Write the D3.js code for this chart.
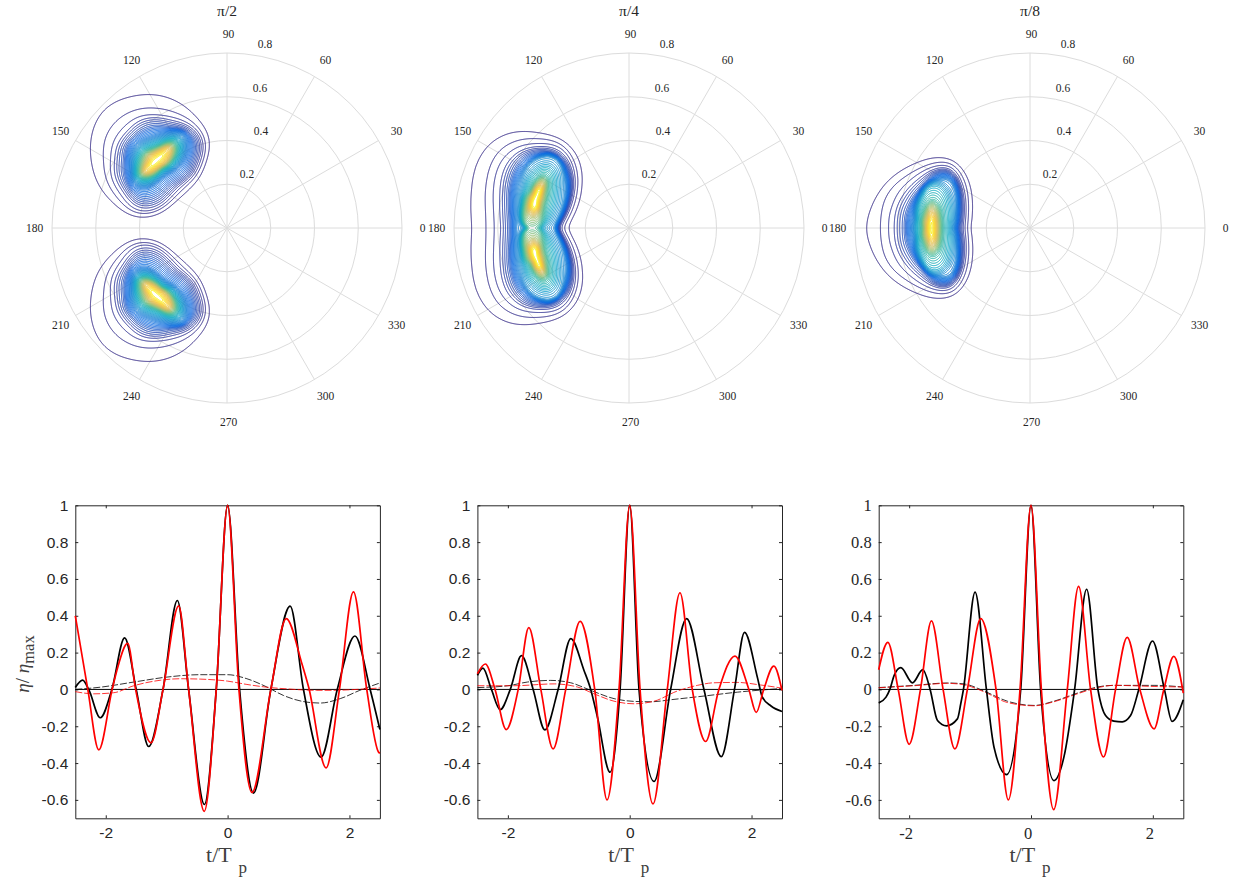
<!DOCTYPE html>
<html>
<head>
<meta charset="utf-8">
<script src="https://cdnjs.cloudflare.com/ajax/libs/d3/7.8.5/d3.min.js"></script>
<style>
body { margin: 0; background: #fff; }
svg { display: block; }
</style>
</head>
<body>
<svg id="chart" width="1239" height="881"></svg>
<script>
// polar axis
const polarTitles = ["π/2", "π/4", "π/8"];
const angleTicks = [0, 30, 60, 90, 120, 150, 180, 210, 240, 270, 300, 330];
const radiusTicks = [0.2, 0.4, 0.6, 0.8];
const rMax = 0.8;
// ring radii below are read in 1/218.75 of a radial unit
const rUnit = 1 / 218.75;

// contour traces, one row per level, rays evenly spaced counter clockwise from east
const p1Origin = [-0.321, 0.311];
const p1Levels = [1, 2, 3, 4, 8, 15, 28, 42, 50];
const p1Rings = [
    [48, 57, 57, 61, 65, 68, 74, 70, 65, 63, 60, 61, 54, 44, 42, 45],
    [46, 53, 52, 50, 51, 54, 56, 56, 52, 54, 54, 58, 51, 41, 38, 42],
    [43, 51, 49, 45, 44, 47, 46, 47, 45, 49, 49, 56, 49, 38, 35, 40],
    [41, 49, 47, 41, 42, 43, 40, 42, 41, 45, 45, 52, 46, 35, 33, 38],
    [35, 43, 42, 34, 35, 34, 33, 34, 32, 36, 39, 45, 37, 28, 28, 33],
    [27, 34, 40, 29, 25, 24, 26, 27, 27, 28, 35, 32, 22, 18, 18, 22],
    [17, 23, 29, 18, 14, 13, 15, 17, 18, 21, 27, 20, 14, 11, 11, 14],
    [10, 14, 20, 10, 8, 7, 7, 8, 9, 11, 20, 12, 8, 7, 7, 8],
    [2, 5, 10, 3, 2, 2, 2, 2, 3, 5, 10, 4, 2, 2, 2, 2]
];

// upper half only (0 to 180 degrees), the lower half is the same
const p2Origin = [-0.407, 0];
const p2Levels = [1, 2, 3, 4, 8, 18];
const p2HalfRings = [
    [27, 31, 42, 58, 79, 91, 94, 100, 99, 90, 78, 71, 67],
    [23, 27, 37, 52, 72, 88, 89, 91, 87, 73, 62, 55, 53],
    [21, 24, 32, 47, 69, 85, 84, 85, 78, 64, 53, 47, 45],
    [18, 21, 29, 44, 65, 81, 81, 80, 70, 54, 45, 40, 38],
    [17, 19, 26, 40, 60, 76, 77, 73, 57, 43, 35, 31, 30],
    [15, 17, 22, 33, 52, 70, 70, 58, 43, 32, 27, 23, 23]
];
const p2HumpOrigin = [-0.425, 0.136];
const p2HumpLevels = [18, 22, 30, 38, 44, 50];
const p2HumpRings = [
    [28, 30, 40, 49, 41, 31, 21, 19, 19, 20, 26, 37, 37, 36, 29, 28],
    [22, 24, 32, 40, 32, 23, 16, 15, 15, 16, 22, 32, 33, 29, 23, 22],
    [11, 13, 17, 28, 18, 11, 9, 10, 11, 13, 18, 33, 35, 18, 12, 11],
    [7, 7, 10, 22, 12, 7, 6, 6, 7, 8, 12, 20, 20, 9, 7, 6],
    [4, 5, 7, 16, 8, 4, 4, 4, 4, 5, 8, 14, 14, 6, 4, 4],
    [2, 2, 4, 12, 5, 2, 2, 2, 2, 3, 5, 10, 10, 3, 2, 2]
];

const p3Origin = [-0.434, 0];
const p3Levels = [1, 2, 3, 4, 8, 18];
const p3HalfRings = [
    [34, 37, 42, 50, 61, 70, 70, 67, 66, 66, 66, 67, 69],
    [32, 34, 38, 46, 57, 68, 65, 61, 59, 59, 58, 55, 54],
    [29, 31, 35, 42, 53, 65, 62, 57, 53, 51, 48, 47, 46],
    [27, 29, 33, 40, 50, 62, 59, 52, 48, 45, 43, 41, 40],
    [23, 25, 29, 35, 47, 59, 55, 44, 39, 35, 33, 31, 30],
    [18, 21, 23, 30, 41, 52, 46, 36, 31, 26, 22, 22, 22]
];
const p3CoreOrigin = [-0.453, 0];
const p3CoreLevels = [18, 24, 30, 38, 44, 50];
const p3CoreHalfRings = [
    [22, 25, 29, 35, 44, 50, 48, 37, 29, 23, 18, 18, 18],
    [18, 19, 22, 26, 33, 42, 44, 33, 25, 19, 16, 15, 14],
    [11, 12, 13, 15, 20, 27, 30, 22, 16, 13, 11, 10, 9],
    [7, 8, 8, 10, 13, 18, 23, 14, 11, 9, 7, 6, 6],
    [4, 5, 5, 6, 8, 12, 16, 8, 6, 5, 4, 4, 3],
    [1, 1, 2, 2, 3, 5, 10, 3, 2, 1, 1, 1, 1]
];

const contourLevels = d3.range(1, 51);
const parulaStops = ["#352a87", "#0363e1", "#1485d4", "#06a7c6", "#38b99e", "#92bf73", "#d9ba56", "#fcce2e", "#f9fb0e"];

// time series, [t/Tp, eta/eta_max] read at extrema, zero crossings and shoulders
const xTicks = [-2, 0, 2];
const yTicks = [-0.6, -0.4, -0.2, 0, 0.2, 0.4, 0.6, 0.8, 1];

const p1Black = [[-2.5, 0.01], [-2.38, 0.05], [-2.28, 0], [-2.09, -0.154], [-1.9, 0], [-1.69, 0.28], [-1.5, 0], [-1.295, -0.31], [-1.06, 0], [-0.825, 0.483], [-0.64, 0], [-0.38, -0.625], [-0.186, 0], [0, 1], [0.197, 0], [0.426, -0.563], [0.71, 0], [1.027, 0.452], [1.245, 0], [1.535, -0.368], [1.8, 0], [2.09, 0.29], [2.34, 0], [2.5, -0.218]];
const p1Red = [[-2.5, 0.4], [-2.295, 0], [-2.115, -0.328], [-1.895, 0], [-1.82, 0.1], [-1.64, 0.25], [-1.51, 0], [-1.257, -0.29], [-1.06, 0], [-0.803, 0.454], [-0.64, 0], [-0.383, -0.662], [-0.186, 0], [0, 1], [0.186, 0], [0.4, -0.56], [0.71, 0], [0.962, 0.385], [1.22, 0.14], [1.33, 0.013], [1.617, -0.426], [1.836, 0], [2.066, 0.53], [2.284, 0], [2.48, -0.342], [2.5, -0.347]];
const p1BlackDash = [[-2.5, 0], [-2.09, 0.012], [-1.54, 0.04], [-0.995, 0.067], [-0.45, 0.08], [0, 0.08], [0.317, 0.058], [0.645, 0.013], [0.918, -0.033], [1.3, -0.069], [1.52, -0.074], [1.85, -0.05], [2.17, -0.005], [2.5, 0.035]];
const p1RedDash = [[-2.5, -0.012], [-2.2, -0.024], [-1.87, -0.018], [-1.54, 0.02], [-1.1, 0.05], [-0.776, 0.058], [-0.45, 0.056], [0, 0.045], [0.317, 0.027], [0.645, 0.012], [0.97, 0.003], [1.46, -0.005], [1.74, -0.005], [2.06, -0.001], [2.5, 0.008]];

const p2Black = [[-2.5, 0.076], [-2.41, 0.116], [-2.27, 0], [-2.126, -0.11], [-1.96, 0], [-1.776, 0.183], [-1.585, 0], [-1.393, -0.22], [-1.175, 0], [-0.967, 0.276], [-0.75, 0.103], [-0.64, 0], [-0.53, -0.15], [-0.322, -0.45], [-0.158, 0], [0, 1], [0.153, 0], [0.4, -0.5], [0.672, 0], [0.934, 0.385], [1.219, 0], [1.503, -0.365], [1.72, 0], [1.885, 0.31], [2.1, 0.06], [2.175, -0.04], [2.32, -0.09], [2.5, -0.12]];
const p2Red = [[-2.5, 0.085], [-2.37, 0.138], [-2.21, 0], [-2.027, -0.218], [-1.83, 0], [-1.656, 0.336], [-1.459, 0], [-1.257, -0.323], [-1.05, 0], [-0.814, 0.37], [-0.574, 0], [-0.372, -0.6], [-0.175, 0], [0, 1], [0.17, 0], [0.383, -0.622], [0.617, 0], [0.825, 0.525], [1.027, 0], [1.246, -0.283], [1.464, 0], [1.727, 0.181], [1.956, 0], [2.077, -0.125], [2.2, 0], [2.366, 0.127], [2.5, -0.005]];
const p2BlackDash = [[-2.5, 0.01], [-2, 0.02], [-1.68, 0.04], [-1.295, 0.049], [-0.967, 0.036], [-0.64, -0.005], [-0.257, -0.05], [0.07, -0.065], [0.344, -0.067], [0.727, -0.054], [1.219, -0.036], [1.765, -0.015], [2.5, 0.005]];
const p2RedDash = [[-2.5, 0.02], [-1.9, 0.02], [-1.24, 0.03], [-0.858, 0.013], [-0.585, -0.024], [-0.257, -0.064], [0.07, -0.078], [0.4, -0.064], [0.78, -0.009], [1.11, 0.022], [1.38, 0.036], [1.765, 0.038], [2.15, 0.024], [2.5, 0.007]];

const p3Black = [[-2.5, -0.073], [-2.38, -0.042], [-2.317, 0], [-2.246, 0.076], [-2.137, 0.118], [-1.945, 0.036], [-1.776, 0.107], [-1.656, 0], [-1.535, -0.169], [-1.388, -0.198], [-1.208, -0.16], [-1.153, -0.078], [-1.109, 0], [-0.918, 0.528], [-0.732, 0], [-0.607, -0.314], [-0.4, -0.463], [-0.169, 0], [0, 1], [0.158, 0], [0.377, -0.495], [0.54, -0.368], [0.716, 0], [0.913, 0.544], [1.098, 0], [1.224, -0.142], [1.36, -0.172], [1.497, -0.176], [1.634, -0.142], [1.77, 0], [1.995, 0.263], [2.19, 0], [2.317, -0.174], [2.5, -0.056]];
const p3Red = [[-2.5, 0.107], [-2.35, 0.256], [-2.18, 0], [-2, -0.298], [-1.814, 0], [-1.634, 0.372], [-1.443, 0], [-1.25, -0.323], [-1.044, 0], [-0.825, 0.385], [-0.574, 0], [-0.372, -0.6], [-0.18, 0], [0, 1], [0.17, 0], [0.372, -0.653], [0.596, 0], [0.781, 0.56], [0.978, 0], [1.19, -0.367], [1.388, 0], [1.579, 0.283], [1.787, 0], [2.02, -0.214], [2.18, 0], [2.344, 0.18], [2.5, -0.02]];
const p3BlackDash = [[-2.5, 0.01], [-1.92, 0.022], [-1.37, 0.035], [-1.1, 0.03], [-0.77, -0.009], [-0.388, -0.064], [0.05, -0.087], [0.377, -0.064], [0.76, -0.02], [1.087, 0.013], [1.36, 0.022], [2.02, 0.022], [2.5, 0.013]];
const p3RedDash = [[-2.5, 0.009], [-1.92, 0.02], [-1.37, 0.033], [-1.1, 0.025], [-0.77, -0.013], [-0.388, -0.071], [0.05, -0.089], [0.377, -0.067], [0.76, -0.024], [1.087, 0.009], [1.36, 0.022], [2.02, 0.016], [2.5, 0.013]];

const svg = d3.select("#chart");
const serif = "'Liberation Serif', 'Times New Roman', serif";
const sans = "'Liberation Sans', Arial, sans-serif";

// --- polar row ---
const polarCx = [227, 629, 1030];
const polarCy = 228;
const polarR = 175;
const rScale = d3.scaleLinear().domain([0, rMax]).range([0, polarR]);
const rLabelDx = [20, 34, 33, 38];
const rLabelDy = [54, 97, 140, 184];

function unroll(halfRings) {
    return halfRings.map(h => h.concat(h.slice(1, -1).reverse()));
}

const polarLobes = [
    [{ origin: p1Origin, levels: p1Levels, rings: p1Rings, mirror: true }],
    [{ origin: p2Origin, levels: p2Levels, rings: unroll(p2HalfRings) },
     { origin: p2HumpOrigin, levels: p2HumpLevels, rings: p2HumpRings, mirror: true }],
    [{ origin: p3Origin, levels: p3Levels, rings: unroll(p3HalfRings) },
     { origin: p3CoreOrigin, levels: p3CoreLevels, rings: unroll(p3CoreHalfRings) }]
];

const gridSize = 2 * polarR;

function ringHeight(dist, radii, levels) {
    if (dist >= radii[0]) {
        // inner lobes sit on top of the main one and stop at their first ring
        if (levels[0] > 1) return 0;
        return Math.max(0, levels[0] - (dist - radii[0]) / (15 * rUnit));
    }
    for (let k = 0; k < radii.length - 1; k++) {
        if (dist >= radii[k + 1]) {
            return levels[k] + (levels[k + 1] - levels[k]) * (radii[k] - dist) / (radii[k] - radii[k + 1]);
        }
    }
    return levels[levels.length - 1];
}

function buildField(lobes) {
    const n = gridSize;
    const field = new Float64Array(n * n);
    const gridX = d3.scaleLinear().domain([0, n]).range([-rMax, rMax]);
    const gridY = d3.scaleLinear().domain([0, n]).range([rMax, -rMax]);
    lobes.forEach(lobe => {
        const profiles = lobe.rings.map(ring => {
            const f = d3.interpolateBasisClosed(ring);
            return d3.range(720).map(i => f(i / 720) * rUnit);
        });
        const signs = lobe.mirror ? [1, -1] : [1];
        signs.forEach(sign => {
            for (let j = 0; j < n; j++) {
                const dy = sign * gridY(j + 0.5) - lobe.origin[1];
                for (let i = 0; i < n; i++) {
                    const dx = gridX(i + 0.5) - lobe.origin[0];
                    const dist = Math.hypot(dx, dy);
                    const a = (Math.atan2(dy, dx) + 2 * Math.PI) % (2 * Math.PI);
                    const idx = Math.floor(a / (2 * Math.PI) * 720) % 720;
                    const radii = profiles.map(p => p[idx]);
                    const h = ringHeight(dist, radii, lobe.levels);
                    if (h > field[j * n + i]) field[j * n + i] = h;
                }
            }
        });
    });
    d3.blur2({ data: field, width: n, height: n }, 1);
    return field;
}

const parula = d3.scaleLinear()
    .domain(parulaStops.map((c, i) => i / (parulaStops.length - 1)))
    .range(parulaStops);
// most contours of the reference stay blue, so colour runs on a power of the level
const levelColor = d3.scalePow().exponent(1.4).domain([1, 50]).range([0, 1]);

polarTitles.forEach((title, p) => {
    const cx = polarCx[p];
    const g = svg.append("g").attr("transform", `translate(${cx},${polarCy})`);

    g.selectAll(".ring").data(radiusTicks).enter().append("circle")
        .attr("r", d => rScale(d))
        .attr("fill", "none")
        .attr("stroke", "#dcdcdc")
        .attr("stroke-width", 1);

    g.selectAll(".spoke").data(angleTicks).enter().append("line")
        .attr("x2", d => rScale(rMax) * Math.cos(d * Math.PI / 180))
        .attr("y2", d => -rScale(rMax) * Math.sin(d * Math.PI / 180))
        .attr("stroke", "#dcdcdc")
        .attr("stroke-width", 1);

    // contours come straight from d3.contours on the field
    const toPx = d3.scaleLinear().domain([0, gridSize]).range([-polarR, polarR]);
    const path = d3.geoPath(d3.geoTransform({
        point(x, y) { this.stream.point(toPx(x), toPx(y)); }
    }));
    const field = buildField(polarLobes[p]);
    const contours = d3.contours().size([gridSize, gridSize]).thresholds(contourLevels)(field);
    g.append("g").selectAll("path").data(contours).enter().append("path")
        .attr("d", path)
        .attr("fill", "none")
        .attr("stroke", d => parula(levelColor(d.value)))
        .attr("stroke-width", 1);

    g.selectAll(".angle-label").data(angleTicks).enter().append("text")
        .attr("x", d => 1.5 + (polarR + 19) * Math.cos(d * Math.PI / 180))
        .attr("y", d => -(polarR + 19) * Math.sin(d * Math.PI / 180))
        .attr("dy", "0.33em")
        .attr("text-anchor", "middle")
        .style("font-family", serif)
        .style("font-size", "11.5px")
        .attr("fill", "#262626")
        .text(d => d);

    g.selectAll(".radius-label").data(radiusTicks).enter().append("text")
        .attr("x", (d, i) => rLabelDx[i])
        .attr("y", (d, i) => -rLabelDy[i])
        .attr("dy", "0.33em")
        .attr("text-anchor", "middle")
        .style("font-family", serif)
        .style("font-size", "11.5px")
        .attr("fill", "#262626")
        .text(d => d);

    g.append("text")
        .attr("y", 11 - polarCy)
        .attr("dy", "0.33em")
        .attr("text-anchor", "middle")
        .style("font-family", serif)
        .style("font-size", "15.5px")
        .attr("fill", "#262626")
        .text(title);
});

// --- time series row ---
const boxLeft = [75.3, 477.4, 878.7];
const boxWidth = 304.6;
const boxTop = 505.3;
const boxBottom = 818.3;
const series = [
    [p1BlackDash, p1RedDash, p1Black, p1Red],
    [p2BlackDash, p2RedDash, p2Black, p2Red],
    [p3BlackDash, p3RedDash, p3Black, p3Red]
];
const tickFont = [sans, sans, serif];
const tickSize = ["15.5px", "15.5px", "16.5px"];
const labelShift = [0, 0, -3.5];

const y = d3.scaleLinear().domain([-0.7, 1]).range([boxBottom, boxTop]);

series.forEach((lines, p) => {
    const x = d3.scaleLinear().domain([-2.5, 2.5]).range([boxLeft[p], boxLeft[p] + boxWidth]);
    const g = svg.append("g");

    const line = d3.line().x(d => x(d[0])).y(d => y(d[1])).curve(d3.curveMonotoneX);

    const axes = [
        [d3.axisBottom(x).tickValues(xTicks).tickSize(-3).tickSizeOuter(0).tickPadding(9).tickFormat(d => d), [0, boxBottom]],
        [d3.axisTop(x).tickValues(xTicks).tickSize(-3).tickSizeOuter(0).tickFormat(""), [0, boxTop]],
        [d3.axisLeft(y).tickValues(yTicks).tickSize(-3).tickSizeOuter(0).tickPadding(7).tickFormat(d => d), [boxLeft[p], 0]],
        [d3.axisRight(y).tickValues(yTicks).tickSize(-3).tickSizeOuter(0).tickFormat(""), [boxLeft[p] + boxWidth, 0]]
    ];
    axes.forEach(([axis, pos]) => {
        const a = g.append("g").attr("transform", `translate(${pos[0]},${pos[1]})`).call(axis);
        a.selectAll("path, line").attr("stroke", "#262626").attr("stroke-width", 1);
        a.selectAll("text")
            .style("font-family", tickFont[p])
            .style("font-size", tickSize[p])
            .attr("fill", "#262626");
    });
    if (labelShift[p]) {
        g.select("g").selectAll("text").attr("dx", labelShift[p]);
    }

    g.append("line")
        .attr("x1", x(-2.5)).attr("x2", x(2.5))
        .attr("y1", y(0)).attr("y2", y(0))
        .attr("stroke", "#000").attr("stroke-width", 1);

    lines.forEach((d, i) => {
        g.append("path")
            .datum(d)
            .attr("d", line)
            .attr("fill", "none")
            .attr("stroke", i % 2 === 0 ? "#000" : "#f00")
            .attr("stroke-width", i < 2 ? 0.8 : 1.7)
            .attr("stroke-dasharray", i < 2 ? "7,2" : null);
    });

    // x label with the detached subscript
    g.append("text")
        .attr("x", x(0) - 21.5)
        .attr("y", 862)
        .style("font-family", serif)
        .style("font-size", "22px")
        .attr("fill", "#404040")
        .text("t/T");
    g.append("text")
        .attr("x", x(0) + 11)
        .attr("y", 873)
        .style("font-family", serif)
        .style("font-size", "17px")
        .attr("fill", "#404040")
        .text("p");
});

const yl = svg.append("text")
    .attr("transform", "translate(29,664) rotate(-90)")
    .attr("text-anchor", "middle")
    .style("font-family", serif)
    .style("font-size", "19px")
    .attr("fill", "#404040");
yl.append("tspan").style("font-style", "italic").text("η");
yl.append("tspan").text("/ ");
yl.append("tspan").style("font-style", "italic").text("η");
yl.append("tspan").attr("dy", 5).style("font-size", "16.5px").text("max");
</script>
</body>
</html>
